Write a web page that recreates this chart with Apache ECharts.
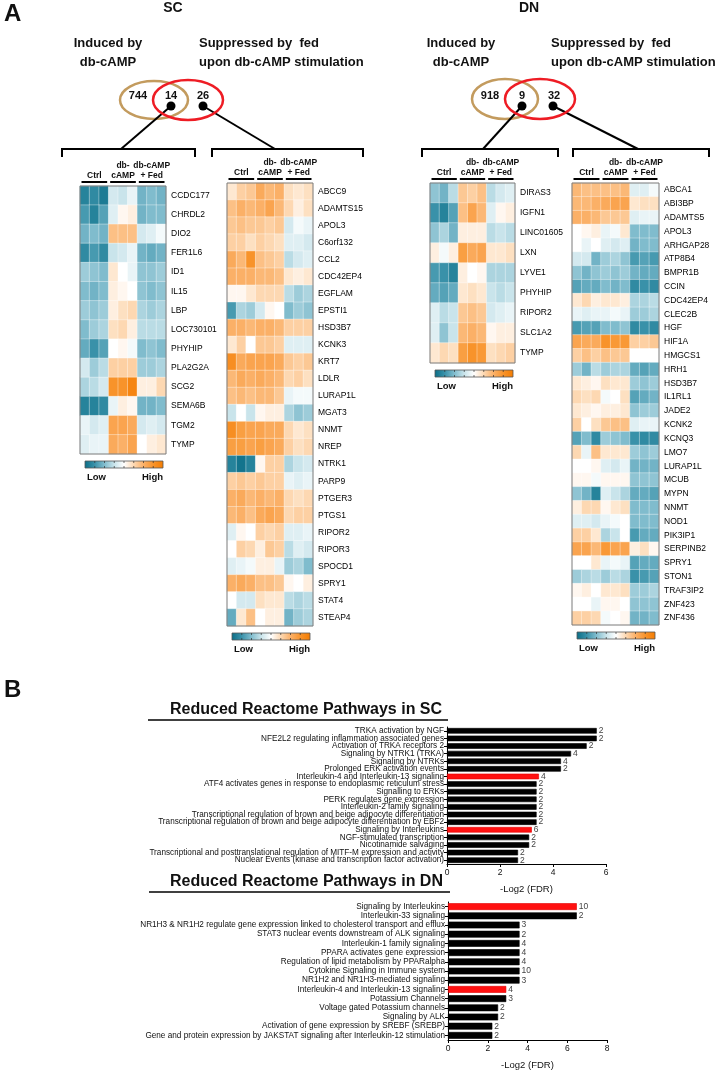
<!DOCTYPE html>
<html>
<head>
<meta charset="utf-8">
<title>SC / DN heatmaps and reduced Reactome pathways</title>
<script src="https://cdn.jsdelivr.net/npm/echarts@6/dist/echarts.min.js"></script>
<style>
  html, body { margin: 0; padding: 0; background: #fff; }
  #chart { width: 718px; height: 1070px; }
</style>
</head>
<body>
<div id="chart"></div>
<script>
// Venn counts: induced only, overlap, suppressed only
var vennSC = [744, 14, 26];
var vennDN = [918, 9, 32];

// heatmap columns: Ctrl x3, db-cAMP x3, db-cAMP + Fed x3 (z-score, -1 low .. 1 high)
var scLeftGenes = ['CCDC177', 'CHRDL2', 'DIO2', 'FER1L6', 'ID1', 'IL15', 'LBP', 'LOC730101',
  'PHYHIP', 'PLA2G2A', 'SCG2', 'SEMA6B', 'TGM2', 'TYMP'];
var scLeftValues = [
  [-0.85, -0.8, -0.9, -0.2, -0.25, -0.1, -0.55, -0.5, -0.55],
  [-0.7, -0.85, -0.65, -0.15, 0.05, 0.1, -0.55, -0.5, -0.5],
  [-0.55, -0.5, -0.55, 0.4, 0.4, 0.4, -0.2, -0.15, -0.05],
  [-0.8, -0.7, -0.8, -0.25, -0.2, -0.1, -0.55, -0.6, -0.55],
  [-0.4, -0.45, -0.5, 0.15, 0.0, -0.1, -0.45, -0.45, -0.4],
  [-0.5, -0.55, -0.5, 0.1, 0.05, 0.0, -0.45, -0.5, -0.45],
  [-0.4, -0.45, -0.4, 0.1, 0.2, 0.25, -0.35, -0.4, -0.35],
  [-0.5, -0.4, -0.35, 0.2, 0.25, 0.1, -0.3, -0.3, -0.3],
  [-0.6, -0.75, -0.65, 0.0, 0.05, -0.05, -0.5, -0.45, -0.5],
  [-0.2, -0.4, -0.3, 0.3, 0.3, 0.3, -0.4, -0.4, -0.35],
  [-0.35, -0.3, -0.2, 0.75, 0.75, 0.9, 0.1, 0.1, 0.25],
  [-0.85, -0.85, -0.8, -0.1, 0.1, 0.05, -0.55, -0.55, -0.5],
  [-0.1, -0.2, -0.15, 0.6, 0.6, 0.55, -0.2, -0.15, -0.2],
  [-0.15, -0.1, -0.1, 0.55, 0.5, 0.6, 0.0, 0.1, 0.15]
];

var scRightGenes = ['ABCC9', 'ADAMTS15', 'APOL3', 'C6orf132', 'CCL2', 'CDC42EP4', 'EGFLAM', 'EPSTI1',
  'HSD3B7', 'KCNK3', 'KRT7', 'LDLR', 'LURAP1L', 'MGAT3', 'NNMT', 'NREP', 'NTRK1', 'PARP9',
  'PTGER3', 'PTGS1', 'RIPOR2', 'RIPOR3', 'SPOCD1', 'SPRY1', 'STAT4', 'STEAP4'];
var scRightValues = [
  [0.15, 0.3, 0.35, 0.55, 0.45, 0.5, 0.2, 0.15, 0.2],
  [0.4, 0.5, 0.45, 0.5, 0.6, 0.45, 0.25, 0.1, 0.2],
  [0.35, 0.4, 0.35, 0.35, 0.3, 0.35, -0.2, -0.05, -0.1],
  [0.3, 0.3, 0.2, 0.3, 0.25, 0.2, -0.15, -0.15, -0.2],
  [0.55, 0.45, 0.75, 0.4, 0.35, 0.3, -0.3, -0.2, -0.15],
  [0.5, 0.5, 0.5, 0.45, 0.45, 0.4, 0.15, 0.1, 0.15],
  [0.05, 0.05, 0.15, 0.25, 0.25, 0.25, -0.3, -0.4, -0.35],
  [-0.7, -0.35, -0.4, -0.2, 0.05, 0.0, -0.5, -0.4, -0.45],
  [0.5, 0.5, 0.45, 0.5, 0.5, 0.45, 0.3, 0.3, 0.3],
  [0.15, 0.3, 0.0, 0.35, 0.35, 0.3, -0.15, -0.15, -0.15],
  [0.8, 0.55, 0.6, 0.6, 0.6, 0.55, 0.35, 0.3, 0.35],
  [0.45, 0.55, 0.5, 0.55, 0.5, 0.45, 0.25, 0.3, 0.2],
  [0.4, 0.45, 0.4, 0.45, 0.45, 0.35, -0.1, -0.05, -0.05],
  [-0.25, 0.0, -0.25, 0.05, 0.1, 0.1, -0.35, -0.45, -0.4],
  [0.8, 0.65, 0.6, 0.6, 0.55, 0.55, 0.25, 0.15, 0.2],
  [0.65, 0.65, 0.6, 0.65, 0.6, 0.55, 0.3, 0.2, 0.25],
  [-0.85, -0.95, -0.85, 0.05, 0.3, 0.3, -0.35, -0.25, -0.2],
  [0.3, 0.35, 0.3, 0.35, 0.3, 0.3, -0.1, -0.15, -0.1],
  [0.5, 0.55, 0.45, 0.5, 0.45, 0.5, 0.25, 0.2, 0.25],
  [0.45, 0.5, 0.4, 0.55, 0.6, 0.55, 0.25, 0.3, 0.3],
  [-0.15, 0.05, 0.0, 0.3, 0.25, 0.3, -0.15, -0.15, -0.1],
  [0.0, 0.3, 0.25, 0.1, 0.35, 0.3, -0.3, -0.15, -0.2],
  [-0.15, -0.1, -0.05, 0.1, 0.1, -0.1, -0.4, -0.35, -0.5],
  [0.5, 0.55, 0.5, 0.4, 0.4, 0.35, 0.05, 0.0, 0.1],
  [0.0, -0.2, -0.2, 0.2, 0.15, 0.15, -0.3, -0.35, -0.3],
  [-0.6, 0.15, 0.4, 0.0, 0.1, 0.1, -0.55, -0.4, -0.35]
];

var dnLeftGenes = ['DIRAS3', 'IGFN1', 'LINC01605', 'LXN', 'LYVE1', 'PHYHIP', 'RIPOR2', 'SLC1A2', 'TYMP'];
var dnLeftValues = [
  [-0.45, -0.55, -0.3, 0.35, 0.3, 0.4, -0.3, -0.2, -0.15],
  [-0.75, -0.85, -0.65, 0.4, 0.6, 0.45, -0.15, 0.05, 0.1],
  [-0.45, -0.35, -0.55, 0.1, 0.1, 0.1, -0.3, -0.25, -0.3],
  [0.1, -0.05, 0.1, 0.65, 0.55, 0.6, 0.15, 0.15, 0.2],
  [-0.7, -0.75, -0.85, 0.1, 0.0, 0.05, -0.35, -0.35, -0.35],
  [-0.6, -0.65, -0.6, 0.15, 0.2, 0.15, -0.25, -0.3, -0.25],
  [-0.15, -0.3, -0.25, 0.35, 0.4, 0.35, -0.2, -0.15, -0.1],
  [-0.15, -0.45, -0.25, 0.45, 0.5, 0.45, 0.05, 0.1, 0.1],
  [0.15, 0.25, 0.2, 0.65, 0.75, 0.7, 0.2, 0.25, 0.3]
];

var dnRightGenes = ['ABCA1', 'ABI3BP', 'ADAMTS5', 'APOL3', 'ARHGAP28', 'ATP8B4', 'BMPR1B', 'CCIN',
  'CDC42EP4', 'CLEC2B', 'HGF', 'HIF1A', 'HMGCS1', 'HRH1', 'HSD3B7', 'IL1RL1', 'JADE2', 'KCNK2',
  'KCNQ3', 'LMO7', 'LURAP1L', 'MCUB', 'MYPN', 'NNMT', 'NOD1', 'PIK3IP1', 'SERPINB2', 'SPRY1',
  'STON1', 'TRAF3IP2', 'ZNF423', 'ZNF436'];
var dnRightValues = [
  [0.45, 0.4, 0.4, 0.4, 0.4, 0.45, -0.15, -0.15, -0.05],
  [0.45, 0.45, 0.5, 0.55, 0.6, 0.6, 0.15, 0.2, 0.2],
  [0.5, 0.5, 0.45, 0.35, 0.35, 0.35, -0.15, -0.1, -0.1],
  [0.0, 0.05, 0.1, -0.1, -0.05, 0.15, -0.5, -0.5, -0.5],
  [0.0, -0.1, 0.0, -0.15, -0.2, -0.15, -0.55, -0.5, -0.5],
  [-0.2, -0.2, -0.55, -0.4, -0.35, -0.45, -0.7, -0.65, -0.7],
  [-0.45, -0.55, -0.45, -0.4, -0.45, -0.4, -0.55, -0.6, -0.6],
  [-0.65, -0.6, -0.6, -0.5, -0.55, -0.5, -0.8, -0.75, -0.8],
  [0.15, 0.25, 0.1, 0.15, 0.15, 0.1, -0.35, -0.35, -0.3],
  [-0.1, -0.15, -0.1, -0.1, -0.05, -0.1, -0.4, -0.4, -0.35],
  [-0.7, -0.65, -0.65, -0.5, -0.5, -0.45, -0.8, -0.75, -0.8],
  [0.6, 0.55, 0.55, 0.75, 0.7, 0.7, 0.3, 0.3, 0.35],
  [0.3, 0.4, 0.3, 0.4, 0.35, 0.35, 0.0, 0.0, 0.0],
  [-0.4, -0.55, -0.3, -0.4, -0.35, -0.35, -0.6, -0.65, -0.6],
  [0.15, 0.1, 0.05, 0.2, 0.15, 0.15, -0.4, -0.45, -0.4],
  [0.25, 0.2, 0.25, -0.05, 0.0, 0.2, -0.65, -0.6, -0.55],
  [0.15, 0.1, 0.05, 0.1, 0.1, 0.15, -0.45, -0.4, -0.4],
  [0.3, 0.0, 0.2, 0.35, 0.4, 0.4, -0.15, -0.1, -0.1],
  [-0.65, -0.5, -0.8, -0.4, -0.45, -0.5, -0.75, -0.8, -0.8],
  [0.25, -0.1, 0.4, 0.15, 0.15, 0.15, -0.4, -0.45, -0.4],
  [0.0, 0.0, 0.05, -0.15, -0.2, -0.1, -0.55, -0.55, -0.55],
  [0.05, 0.05, -0.05, 0.05, 0.05, 0.05, -0.45, -0.45, -0.45],
  [-0.45, -0.55, -0.85, -0.15, -0.25, -0.35, -0.6, -0.6, -0.65],
  [0.1, 0.25, 0.25, 0.05, 0.15, 0.2, -0.5, -0.5, -0.5],
  [-0.15, -0.15, -0.2, -0.1, -0.05, 0.0, -0.5, -0.5, -0.5],
  [0.3, 0.3, 0.15, -0.35, -0.25, 0.0, -0.7, -0.6, -0.6],
  [0.6, 0.6, 0.45, 0.7, 0.6, 0.6, 0.1, 0.2, 0.05],
  [0.0, 0.0, 0.15, -0.1, -0.05, -0.1, -0.65, -0.6, -0.6],
  [-0.4, -0.35, -0.3, -0.4, -0.3, -0.35, -0.75, -0.7, -0.65],
  [0.05, 0.1, 0.0, 0.15, 0.15, 0.2, -0.4, -0.4, -0.35],
  [0.0, 0.0, -0.1, 0.05, 0.05, 0.0, -0.45, -0.45, -0.45],
  [0.3, 0.3, 0.25, -0.05, 0.0, 0.05, -0.55, -0.55, -0.5]
];

// panel B: reduced Reactome pathways
var scTerms = ['TRKA activation by NGF', 'NFE2L2 regulating inflammation associated genes',
  'Activation of TRKA receptors 2', 'Signaling by NTRK1 (TRKA)', 'Signaling by NTRKs',
  'Prolonged ERK activation events', 'Interleukin-4 and Interleukin-13 signaling',
  'ATF4 activates genes in response to endoplasmic reticulum stress', 'Signalling to ERKs',
  'PERK regulates gene expression', 'Interleukin-2 family signaling',
  'Transcriptional regulation of brown and beige adipocyte differentiation',
  'Transcriptional regulation of brown and beige adipocyte differentiation by EBF2',
  'Signaling by Interleukins', 'NGF-stimulated transcription', 'Nicotinamide salvaging',
  'Transcriptional and posttranslational regulation of MITF-M expression and activity',
  'Nuclear Events (kinase and transcription factor activation)'];
var scLog2Fdr = [5.65, 5.65, 5.27, 4.68, 4.3, 4.3, 3.47, 3.38, 3.38, 3.38, 3.38, 3.38, 3.38, 3.2, 3.1, 3.1, 2.68, 2.68];
var scGeneCounts = [2, 2, 2, 4, 4, 2, 4, 2, 2, 2, 2, 2, 2, 6, 2, 2, 2, 2];
var scRedTerms = ['Interleukin-4 and Interleukin-13 signaling', 'Signaling by Interleukins'];
var scTicks = [0, 6, 2];

var dnTerms = ['Signaling by Interleukins', 'Interleukin-33 signaling',
  'NR1H3 & NR1H2 regulate gene expression linked to cholesterol transport and efflux',
  'STAT3 nuclear events downstream of ALK signaling', 'Interleukin-1 family signaling',
  'PPARA activates gene expression', 'Regulation of lipid metabolism by PPARalpha',
  'Cytokine Signaling in Immune system', 'NR1H2 and NR1H3-mediated signaling',
  'Interleukin-4 and Interleukin-13 signaling', 'Potassium Channels', 'Voltage gated Potassium channels',
  'Signaling by ALK', 'Activation of gene expression by SREBF (SREBP)',
  'Gene and protein expression by JAKSTAT signaling after Interleukin-12 stimulation'];
var dnLog2Fdr = [6.48, 6.48, 3.6, 3.6, 3.6, 3.6, 3.6, 3.6, 3.6, 2.93, 2.93, 2.52, 2.52, 2.23, 2.23];
var dnGeneCounts = [10, 2, 3, 2, 4, 4, 4, 10, 3, 4, 3, 2, 2, 2, 2];
var dnRedTerms = ['Signaling by Interleukins', 'Interleukin-4 and Interleukin-13 signaling'];
var dnTicks = [0, 8, 2];

var FONT = 'Liberation Sans, Arial, Helvetica, sans-serif';
var heatColors = ['#0a6d86', '#3991a9', '#80bccd', '#c9e4eb', '#ffffff', '#fdd8b2', '#fbb067', '#f8932a', '#f47c00'];

// heatmap boxes (pixels)
var heatBoxes = [
  { left: 80, top: 186, width: 86, height: 268, genes: scLeftGenes, values: scLeftValues },
  { left: 227, top: 183, width: 86, height: 443, genes: scRightGenes, values: scRightValues },
  { left: 430, top: 183, width: 85, height: 180, genes: dnLeftGenes, values: dnLeftValues },
  { left: 572, top: 183, width: 87, height: 442, genes: dnRightGenes, values: dnRightValues }
];

var chart = echarts.init(document.getElementById('chart'));

function cells(values) {
  var out = [];
  values.forEach(function (row, r) {
    row.forEach(function (v, c) { out.push([c, r, v]); });
  });
  return out;
}

function txt(x, y, s, size, opts) {
  opts = opts || {};
  return {
    type: 'text', x: x, y: y, z: 100,
    style: {
      text: s, fontSize: size, fontFamily: FONT, fontWeight: opts.weight || 'bold',
      fill: opts.color || '#111', textAlign: opts.align || 'center', textVerticalAlign: 'middle'
    }
  };
}
function ln(x1, y1, x2, y2, w) {
  return { type: 'line', z: 100, shape: { x1: x1, y1: y1, x2: x2, y2: y2 },
    style: { stroke: '#000', lineWidth: w || 1.5 } };
}

var grids = [], xAxes = [], yAxes = [], series = [], graphics = [];
var colLabels = ['Ctrl', 'cAMP', '+ Fed'];

heatBoxes.forEach(function (b, i) {
  grids.push({ left: b.left, top: b.top, width: b.width, height: b.height, outerBoundsMode: 'none' });
  xAxes.push({ type: 'category', gridIndex: i, data: [0, 1, 2, 3, 4, 5, 6, 7, 8], show: false });
  yAxes.push({
    type: 'category', gridIndex: i, data: b.genes, inverse: true, position: 'right',
    axisLine: { show: false }, axisTick: { show: false }, splitLine: { show: false },
    axisLabel: { interval: 0, fontSize: 8.5, color: '#000', margin: 5, fontFamily: FONT }
  });
  series.push({
    type: 'heatmap', xAxisIndex: i, yAxisIndex: i, data: cells(b.values),
    itemStyle: { borderColor: 'rgba(255,255,255,0.6)', borderWidth: 0.6 },
    emphasis: { disabled: true }
  });
  // outline
  graphics.push({ type: 'rect', z: 100, shape: { x: b.left, y: b.top, width: b.width, height: b.height },
    style: { fill: 'none', stroke: '#7a7a7a', lineWidth: 1 } });
  // condition headers
  var cw = b.width / 9;
  for (var g = 0; g < 3; g++) {
    var gx0 = b.left + g * 3 * cw, cx = gx0 + 1.5 * cw;
    graphics.push(txt(cx, b.top - 10, colLabels[g], 8.5));
    graphics.push(ln(gx0 + 1.5, b.top - 4, gx0 + 3 * cw - 1.5, b.top - 4, 2));
  }
  graphics.push(txt(b.left + 4.5 * cw, b.top - 20, 'db-', 8.5));
  graphics.push(txt(b.left + 7.5 * cw, b.top - 20, 'db-cAMP', 8.5));
  // colour bar
  var cbx = b.left + 5, cby = b.top + b.height + 7, cbw = 78, cbh = 7;
  graphics.push({ type: 'rect', z: 100, shape: { x: cbx, y: cby, width: cbw, height: cbh },
    style: { stroke: '#555', lineWidth: 0.8,
      fill: new echarts.graphic.LinearGradient(0, 0, 1, 0, heatColors.map(function (c, k) {
        return { offset: k / (heatColors.length - 1), color: c };
      })) } });
  for (var t = 1; t < 8; t++) {
    var tx = cbx + cbw * t / 8;
    graphics.push({ type: 'line', z: 101, shape: { x1: tx, y1: cby, x2: tx, y2: cby + 2 },
      style: { stroke: '#333', lineWidth: 0.7 } });
    graphics.push({ type: 'line', z: 101, shape: { x1: tx, y1: cby + cbh - 2, x2: tx, y2: cby + cbh },
      style: { stroke: '#333', lineWidth: 0.7 } });
  }
  graphics.push(txt(cbx + 2, cby + cbh + 9, 'Low', 9.5, { align: 'left' }));
  graphics.push(txt(cbx + cbw, cby + cbh + 9, 'High', 9.5, { align: 'right' }));
});

// bar charts
function barData(terms, vals, red) {
  return vals.map(function (v, k) {
    var isRed = red.indexOf(terms[k]) >= 0;
    return { value: v, itemStyle: { color: isRed ? '#ff1010' : '#000', borderColor: isRed ? '#e00000' : '#000', borderWidth: 0.6 } };
  });
}
var barSets = [
  { left: 447, top: 727, width: 159, height: 137, terms: scTerms, vals: scLog2Fdr, counts: scGeneCounts, red: scRedTerms, ticks: scTicks, bw: 5.6 },
  { left: 448, top: 902, width: 159, height: 138, terms: dnTerms, vals: dnLog2Fdr, counts: dnGeneCounts, red: dnRedTerms, ticks: dnTicks, bw: 6.8 }
];
barSets.forEach(function (s, j) {
  var gi = heatBoxes.length + j;
  grids.push({ left: s.left, top: s.top, width: s.width, height: s.height, outerBoundsMode: 'none' });
  xAxes.push({
    type: 'value', gridIndex: gi, min: s.ticks[0], max: s.ticks[1], interval: s.ticks[2],
    name: '-Log2 (FDR)', nameLocation: 'middle', nameGap: 20,
    nameTextStyle: { fontSize: 9.5, color: '#111', fontFamily: FONT },
    axisLine: { show: true, lineStyle: { color: '#000', width: 1 } },
    axisTick: { show: true, length: 3, lineStyle: { color: '#000' } },
    axisLabel: { fontSize: 8.5, color: '#111', margin: 4, fontFamily: FONT },
    splitLine: { show: false }
  });
  yAxes.push({
    type: 'category', gridIndex: gi, data: s.terms, inverse: true,
    axisLine: { show: true, lineStyle: { color: '#000', width: 1 } },
    axisTick: { show: true, length: 3, interval: 0, alignWithLabel: true, lineStyle: { color: '#000' } },
    axisLabel: { interval: 0, fontSize: 8.2, color: '#111', margin: 3, fontFamily: FONT },
    splitLine: { show: false }
  });
  series.push({
    type: 'bar', xAxisIndex: gi, yAxisIndex: gi, barWidth: s.bw,
    data: barData(s.terms, s.vals, s.red),
    label: { show: true, position: 'right', distance: 2, fontSize: 8.5, color: '#444', fontFamily: FONT,
      formatter: function (p) { return s.counts[p.dataIndex]; } },
    emphasis: { disabled: true }
  });
});

// panel titles, Venn diagrams, brackets
var venns = [
  { title: 'SC', tx: 173, ix: 108, sx: 199, counts: vennSC, tan: [154, 100, 34, 19], red: [188, 100, 35, 20],
    nums: [138, 171, 203], lines: [[171, 106, 121, 149], [203, 106, 275, 149]] },
  { title: 'DN', tx: 529, ix: 461, sx: 551, counts: vennDN, tan: [505, 99, 33, 20], red: [540, 99, 35, 20],
    nums: [490, 522, 554], lines: [[522, 106, 483, 149], [553, 106, 638, 149]] }
];
venns.forEach(function (v) {
  graphics.push(txt(v.tx, 8, v.title, 14));
  graphics.push(txt(v.ix, 43, 'Induced by', 13));
  graphics.push(txt(v.ix, 62, 'db-cAMP', 13));
  graphics.push(txt(v.sx, 43, 'Suppressed by  fed', 13, { align: 'left' }));
  graphics.push(txt(v.sx, 62, 'upon db-cAMP stimulation', 13, { align: 'left' }));
  graphics.push({ type: 'ellipse', z: 100, shape: { cx: v.tan[0], cy: v.tan[1], rx: v.tan[2], ry: v.tan[3] },
    style: { fill: 'none', stroke: '#c39b5e', lineWidth: 2.5 } });
  graphics.push({ type: 'ellipse', z: 101, shape: { cx: v.red[0], cy: v.red[1], rx: v.red[2], ry: v.red[3] },
    style: { fill: 'none', stroke: '#ee1c24', lineWidth: 2.5 } });
  v.counts.forEach(function (c, k) { graphics.push(txt(v.nums[k], 96, String(c), 11)); });
  v.lines.forEach(function (l) {
    graphics.push(ln(l[0], l[1], l[2], l[3], 2));
    graphics.push({ type: 'circle', z: 102, shape: { cx: l[0], cy: l[1], r: 4.5 }, style: { fill: '#000' } });
  });
});
[[62, 195], [212, 363], [422, 558], [573, 709]].forEach(function (br) {
  graphics.push(ln(br[0], 149, br[1], 149, 2));
  graphics.push(ln(br[0], 148, br[0], 157, 2));
  graphics.push(ln(br[1], 148, br[1], 157, 2));
});

graphics.push(txt(4, 14, 'A', 24, { align: 'left' }));
graphics.push(txt(4, 690, 'B', 24, { align: 'left' }));
graphics.push(txt(170, 710, 'Reduced Reactome Pathways in SC', 16, { align: 'left' }));
graphics.push(ln(148, 720, 448, 720, 1.5));
graphics.push(txt(170, 882, 'Reduced Reactome Pathways in DN', 16, { align: 'left' }));
graphics.push(ln(149, 892, 450, 892, 1.5));

var option = {
  backgroundColor: '#fff',
  animation: false,
  grid: grids,
  xAxis: xAxes,
  yAxis: yAxes,
  visualMap: {
    show: false, min: -1, max: 1, seriesIndex: [0, 1, 2, 3],
    inRange: { color: heatColors }
  },
  series: series,
  graphic: { elements: graphics }
};

chart.setOption(option);
</script>
</body>
</html>
